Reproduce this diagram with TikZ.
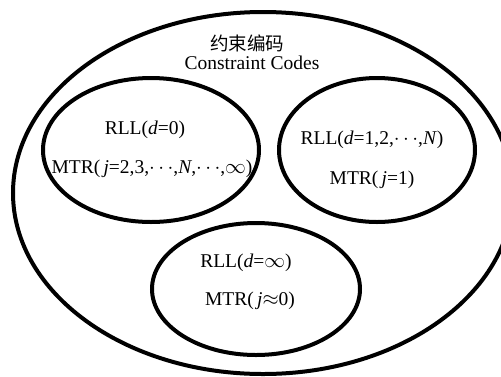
\documentclass[tikz,border=0pt]{standalone}
\usepackage{fontspec}
\setmainfont{Liberation Serif}
\newfontfamily\cjk{Noto Sans CJK SC}
\begin{document}
\begin{tikzpicture}[x=1pt,y=-1pt,
  ring/.style={draw=black,line width=4pt},
  lbl/.style={inner sep=0pt,font=\fontsize{19.5}{22}\selectfont}]
\useasboundingbox (0,0) rectangle (501,376);
\clip (0,0) rectangle (501,376);
\draw[ring] (263,193) ellipse [x radius=250,y radius=181];
\draw[ring] (151,150) ellipse [x radius=108,y radius=72];
\draw[ring] (377,150) ellipse [x radius=98,y radius=72];
\draw[ring] (256,289) ellipse [x radius=104,y radius=66];
\node[lbl,font=\cjk\fontsize{18.5}{22}\selectfont] (zh) at (247,43) {约束编码};
\node[lbl] (en) at (252,63) {Constraint Codes};
\node[lbl] (a1) at (145,130) {RLL(\textit{d}=0)};
\node[lbl] (a2) at (152,169) {MTR(\,\textit{j}=2,3,$\cdots$,\textit{N},$\cdots$,$\infty$)};
\node[lbl] (b1) at (372,140) {RLL(\textit{d}=1,2,$\cdots$,\textit{N})};
\node[lbl] (b2) at (372,180) {MTR(\,\textit{j}=1)};
\node[lbl] (c1) at (246,263) {RLL(\textit{d}=$\infty$)};
\node[lbl] (c2) at (250,301) {MTR(\,\textit{j}$\approx$0)};
\end{tikzpicture}
\end{document}
